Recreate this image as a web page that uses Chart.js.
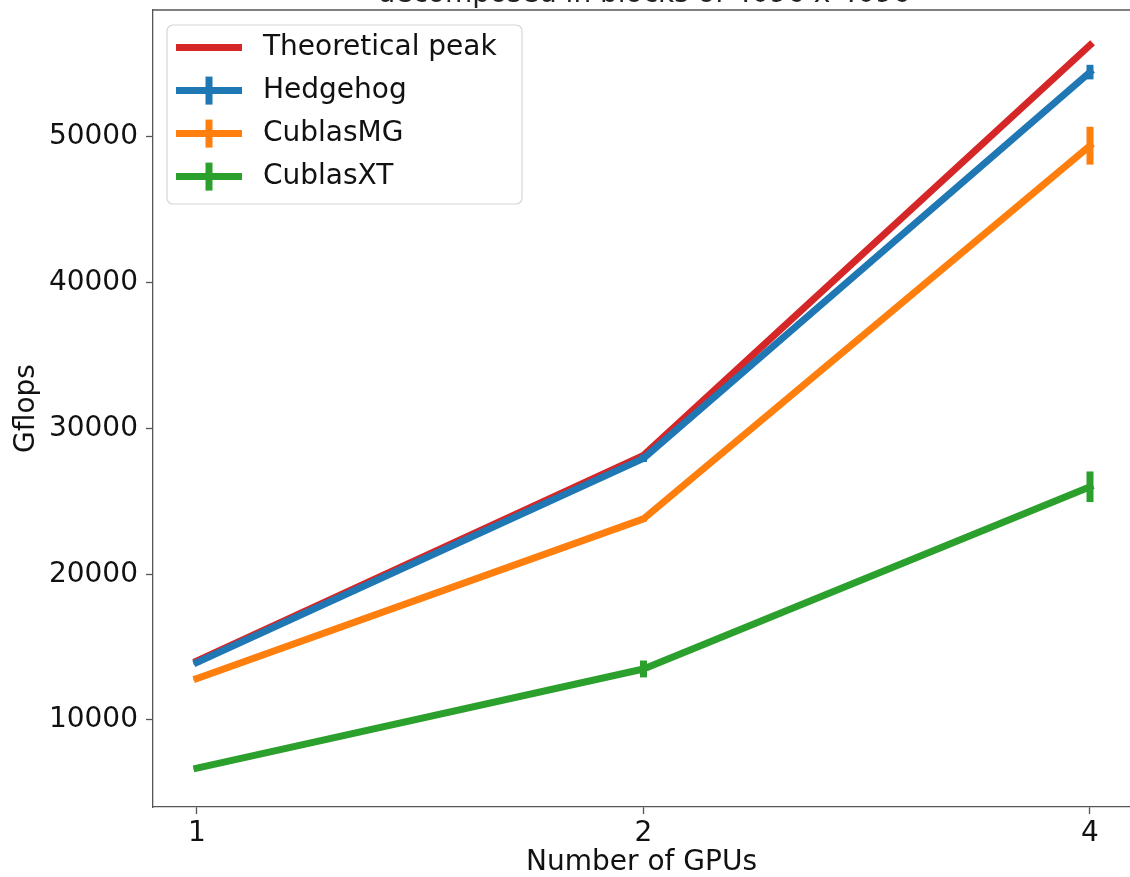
<!DOCTYPE html>
<html>
<head>
<meta charset="utf-8">
<script src="https://cdn.jsdelivr.net/npm/chart.js@4.4.0/dist/chart.umd.min.js"></script>
<style>
  html, body { margin: 0; padding: 0; background: #fff; }
  #wrap { width: 1130px; height: 877px; }
</style>
</head>
<body>
<div id="wrap"><canvas id="myChart" width="1130" height="877"></canvas></div>
<script>
// data
let gpuLabels = ['1', '2', '4'];
let gpuIndex = [0, 1, 2];
let seriesNames = ['Theoretical peak', 'Hedgehog', 'CublasMG', 'CublasXT'];
let colorHex = ['#d62728', '#1f77b4', '#ff7f0e', '#2ca02c'];
let peakValues = [14050, 28150, 56300];
let hedgehogValues = [13950, 27950, 54450];
let hedgehogErr = [150, 250, 500];
let cublasMGValues = [12850, 23800, 49400];
let cublasMGErr = [150, 200, 1300];
let cublasXTValues = [6700, 13500, 26000];
let cublasXTErr = [100, 580, 1050];
let yTicks = [10000, 20000, 30000, 40000, 50000];
let titleText = 'decomposed in blocks of 4096 x 4096';

const FONT = 'DejaVu Sans';

function toPoints(values) {
    return gpuIndex.map((x, i) => ({ x: x, y: values[i] }));
}

// vertical error bars, drawn through the scales
const errorBars = {
    id: 'errorBars',
    afterDatasetsDraw(chart) {
        const ctx = chart.ctx;
        const xs = chart.scales.x, ys = chart.scales.y;
        chart.data.datasets.forEach((ds) => {
            if (!ds.errors) return;
            ctx.save();
            ctx.strokeStyle = ds.borderColor;
            ctx.lineWidth = 7;
            ctx.lineCap = 'butt';
            ds.data.forEach((p, i) => {
                const px = xs.getPixelForValue(p.x);
                ctx.beginPath();
                ctx.moveTo(px, ys.getPixelForValue(p.y - ds.errors[i]));
                ctx.lineTo(px, ys.getPixelForValue(p.y + ds.errors[i]));
                ctx.stroke();
            });
            ctx.restore();
        });
    }
};

// top spine + clipped title + legend box
const frameAndLegend = {
    id: 'frameAndLegend',
    afterDraw(chart) {
        const ctx = chart.ctx;
        const area = chart.chartArea;
        ctx.save();
        ctx.strokeStyle = '#555';
        ctx.lineWidth = 1.3;
        ctx.beginPath();
        ctx.moveTo(area.left, area.top);
        ctx.lineTo(chart.width, area.top);
        ctx.stroke();

        ctx.fillStyle = '#222';
        ctx.font = '28px "' + FONT + '"';
        ctx.textAlign = 'center';
        ctx.textBaseline = 'alphabetic';
        ctx.fillText(titleText, 644, 2);

        // legend
        const bx = 167, by = 25, bw = 355, bh = 179, r = 6;
        ctx.beginPath();
        ctx.moveTo(bx + r, by);
        ctx.arcTo(bx + bw, by, bx + bw, by + bh, r);
        ctx.arcTo(bx + bw, by + bh, bx, by + bh, r);
        ctx.arcTo(bx, by + bh, bx, by, r);
        ctx.arcTo(bx, by, bx + bw, by, r);
        ctx.closePath();
        ctx.fillStyle = 'rgba(255,255,255,0.85)';
        ctx.fill();
        ctx.strokeStyle = '#d6d6d6';
        ctx.lineWidth = 1.2;
        ctx.stroke();

        chart.data.datasets.forEach((ds, i) => {
            const cy = 47.6 + i * 43;
            ctx.strokeStyle = ds.borderColor;
            ctx.lineWidth = 7;
            ctx.lineCap = 'butt';
            ctx.beginPath();
            ctx.moveTo(176, cy);
            ctx.lineTo(242, cy);
            ctx.stroke();
            if (ds.errors) {
                ctx.beginPath();
                ctx.moveTo(209, cy - 14);
                ctx.lineTo(209, cy + 14);
                ctx.stroke();
            }
            ctx.fillStyle = '#111';
            ctx.textAlign = 'left';
            ctx.textBaseline = 'middle';
            ctx.fillText(ds.label, 263, cy);
        });
        ctx.restore();
    }
};

function makeDataset(i, values, errors) {
    return {
        label: seriesNames[i],
        data: toPoints(values),
        errors: errors,
        borderColor: colorHex[i],
        backgroundColor: colorHex[i],
        borderWidth: 7,
        borderCapStyle: 'square',
        borderJoinStyle: 'round',
        pointRadius: 0,
        tension: 0,
        order: 10 - i
    };
}

let ctx = document.getElementById('myChart').getContext('2d');
let myChart = new Chart(ctx, {
    type: 'line',
    data: {
        datasets: [
            makeDataset(0, peakValues, null),
            makeDataset(1, hedgehogValues, hedgehogErr),
            makeDataset(2, cublasMGValues, cublasMGErr),
            makeDataset(3, cublasXTValues, cublasXTErr)
        ]
    },
    plugins: [errorBars, frameAndLegend],
    options: {
        responsive: false,
        animation: false,
        devicePixelRatio: 1,
        layout: { padding: { top: 10, right: 0, left: 0, bottom: 0 } },
        plugins: {
            legend: { display: false },
            tooltip: { enabled: false },
            title: { display: false }
        },
        scales: {
            x: {
                type: 'linear',
                min: -0.0985,
                max: 2.0896,
                afterBuildTicks: (axis) => {
                    axis.ticks = gpuIndex.map(v => ({ value: v }));
                },
                afterFit: (axis) => {
                    axis.height = 70;
                    axis.paddingLeft = 0;
                    axis.paddingRight = 0;
                },
                ticks: {
                    callback: (value) => gpuLabels[value],
                    color: '#111',
                    font: { family: FONT, size: 28, lineHeight: 1.2 },
                    padding: 3,
                    maxRotation: 0,
                    autoSkip: false
                },
                grid: {
                    drawOnChartArea: false,
                    drawTicks: true,
                    tickLength: 7,
                    tickColor: '#555',
                    tickWidth: 1.3
                },
                border: { display: true, color: '#555', width: 1.3 },
                title: {
                    display: true,
                    text: 'Number of GPUs',
                    color: '#111',
                    font: { family: FONT, size: 28, lineHeight: 1.2 },
                    padding: { top: 0, bottom: -3 }
                }
            },
            y: {
                type: 'linear',
                min: 4030,
                max: 58710,
                afterBuildTicks: (axis) => {
                    axis.ticks = yTicks.map(v => ({ value: v }));
                },
                afterFit: (axis) => {
                    axis.width = 153;
                    axis.paddingTop = 0;
                    axis.paddingBottom = 0;
                },
                ticks: {
                    color: '#111',
                    font: { family: FONT, size: 28, lineHeight: 1.2 },
                    padding: 8,
                    callback: (value) => String(value)
                },
                grid: {
                    drawOnChartArea: false,
                    drawTicks: true,
                    tickLength: 7,
                    tickColor: '#555',
                    tickWidth: 1.3
                },
                border: { display: true, color: '#555', width: 1.3 },
                title: {
                    display: true,
                    text: 'Gflops',
                    color: '#111',
                    font: { family: FONT, size: 28, lineHeight: 1.2 },
                    padding: { top: 10, bottom: 0 }
                }
            }
        }
    }
});
</script>
</body>
</html>
